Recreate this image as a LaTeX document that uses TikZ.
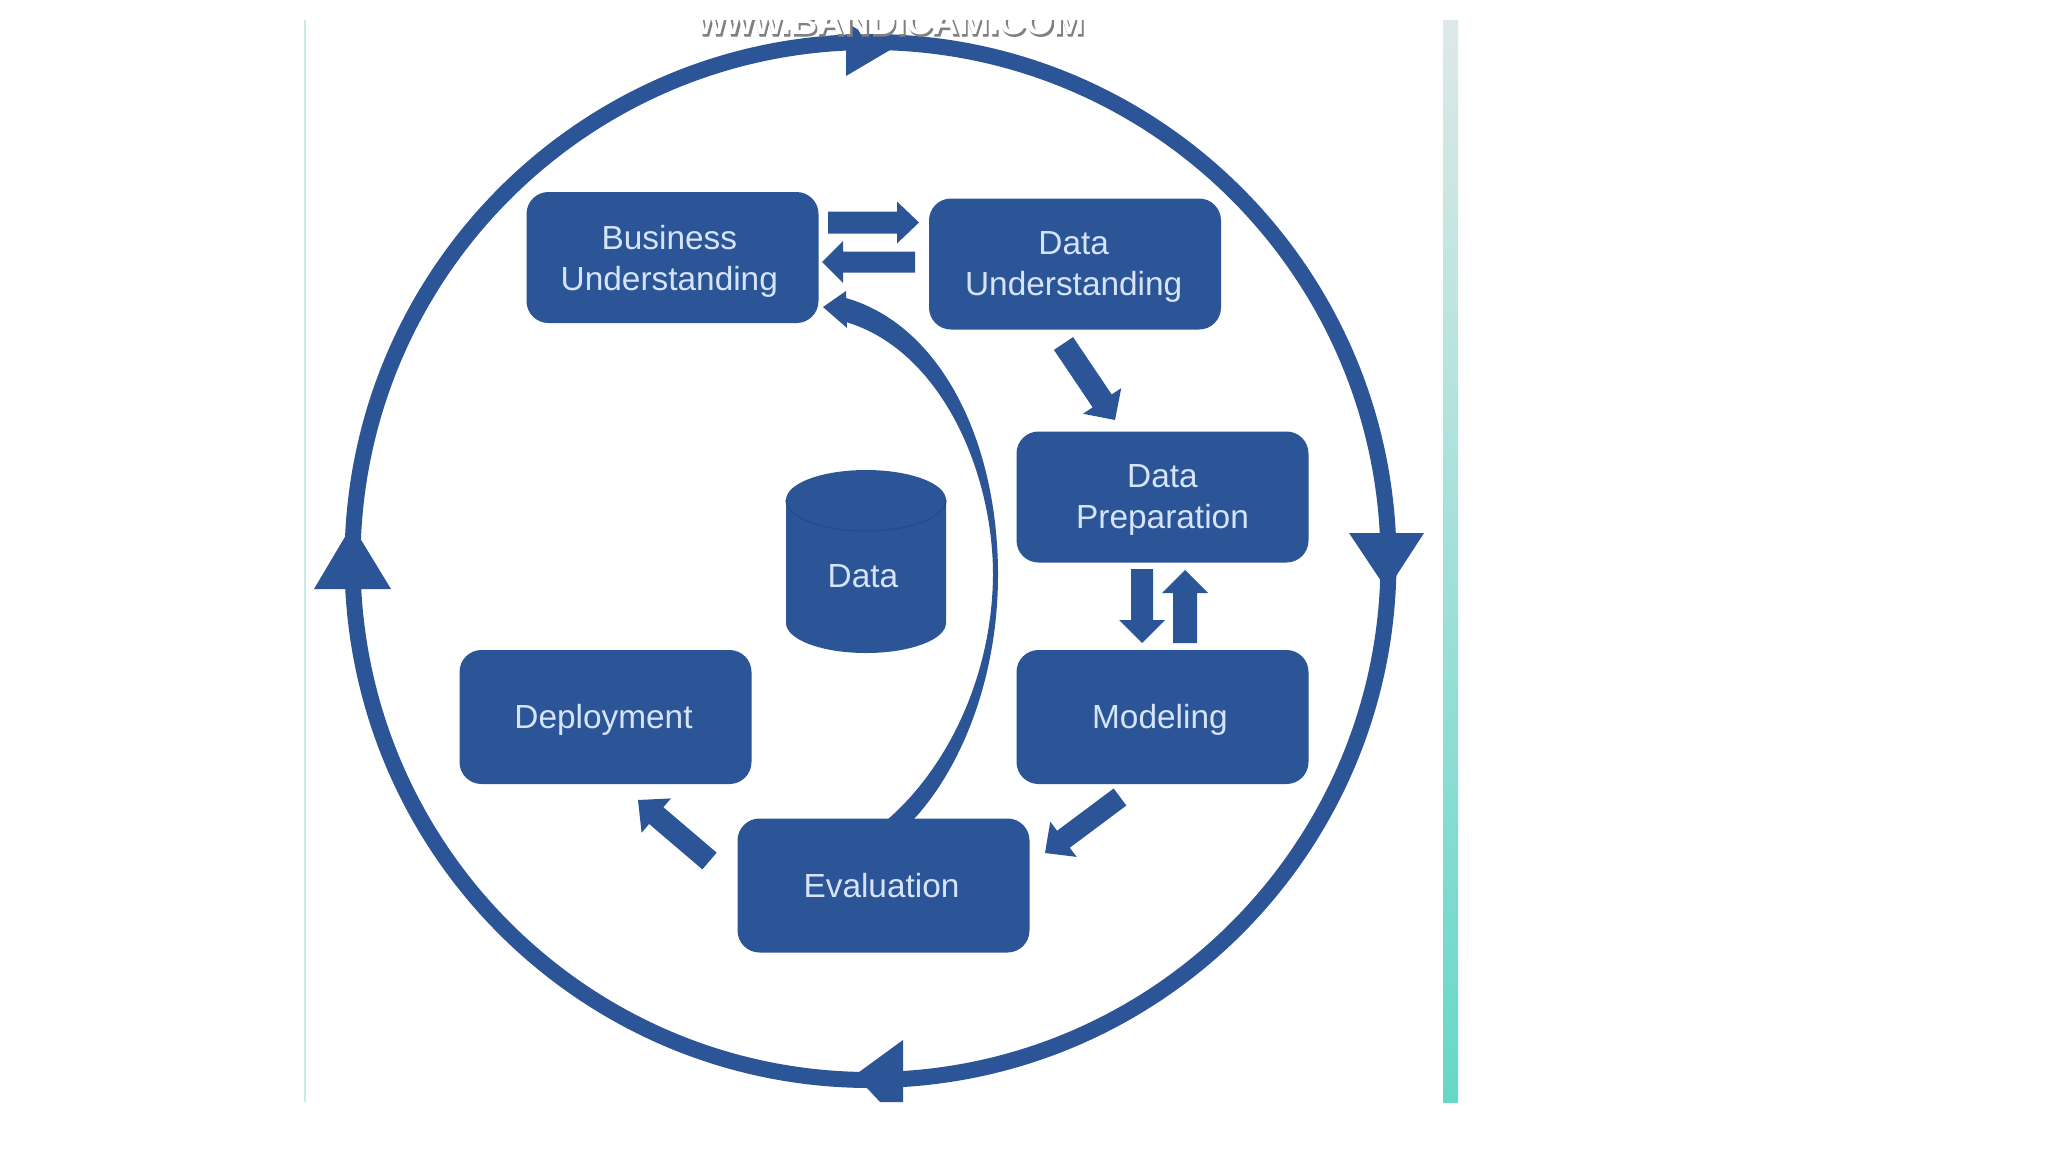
\documentclass[tikz,border=0pt]{standalone}
\usepackage{fontspec}
\setmainfont{Liberation Sans}
\newfontfamily\wmshadowfont[FakeBold=3]{Liberation Sans Bold}
\usetikzlibrary{calc}
\definecolor{crispblue}{HTML}{2B5597}
\definecolor{crispdark}{HTML}{234C8C}
\definecolor{crisptext}{HTML}{D5E4F8}
\definecolor{edgepale}{HTML}{C5ECE6}
\definecolor{striptop}{HTML}{DDE9E8}
\definecolor{stripmid}{HTML}{A0E1D8}
\definecolor{stripbot}{HTML}{66D8C8}
\tikzset{
  stage/.style={fill=crispblue,rounded corners=11pt,minimum width=146pt,minimum height=65.5pt,inner sep=0pt,align=center,text=crisptext,font=\fontsize{16.7}{20.7}\selectfont},
  tallstage/.style={stage,minimum height=67pt},
  blockfill/.style={fill=crispblue},
  cyclehead/.style={fill=crispblue},
  cyclering/.style={draw=crispblue,line width=8pt},
}
\newcommand\lift[1]{\rule{0pt}{#1}}
\newcommand\tailgap[1]{\hspace*{#1}}
\newcommand\blockarrow[5]{%
  \coordinate (tmpc) at ($(#2)!#5!(#1)$);
  \fill[blockfill] ($(#1)!#3!90:(#2)$) -- ($(tmpc)!#3!90:(#2)$) -- ($(tmpc)!#4!90:(#2)$) -- (#2) -- ($(tmpc)!#4!-90:(#2)$) -- ($(tmpc)!#3!-90:(#2)$) -- ($(#1)!#3!-90:(#2)$) -- cycle;
}
\begin{document}
\begin{tikzpicture}[x=0.5pt,y=-0.5pt]
\useasboundingbox (0,0) rectangle (2048,1152);
\fill[white] (0,0) rectangle (2048,1152);
% slide edges
\fill[edgepale] (304,20) rectangle (306,1102);
\shade[top color=striptop,middle color=stripmid,bottom color=stripbot] (1443,20) rectangle (1458,1102);
% cycle ring
\draw[cyclering] (870.5,561) ellipse [x radius=518,y radius=519];
\fill[cyclehead] (890,50) -- (846,22) -- (846,76) -- cycle;
\fill[cyclehead] (1349,533) -- (1424,533) -- (1387,590) -- cycle;
\fill[cyclehead] (855,1075) -- (903,1040) -- (903,1102) -- (880,1102) -- cycle;
\fill[cyclehead] (314,589) -- (391,589) -- (352,525) -- cycle;
% stages
\node[stage] (bu) at (672.5,257.5) {\lift{16pt}Business\tailgap{3.2pt}\\Understanding\tailgap{3.2pt}};
\node[stage] (du) at (1075,264) {\lift{14.6pt}Data\tailgap{1.3pt}\\Understanding\tailgap{1.3pt}};
\node[stage] (dp) at (1162.5,497) {\lift{14.6pt}Data\\Preparation};
\node[tallstage] (mo) at (1162.5,717) {\lift{14.6pt}Modeling\tailgap{2.6pt}};
\node[tallstage] (de) at (605.5,717) {\lift{14.6pt}Deployment\tailgap{2pt}};
\node[tallstage] (ev) at (883.5,885.5) {Evaluation\tailgap{2pt}};
% data cylinder
\fill[crispblue] (786,500) arc[start angle=180,end angle=360,x radius=80,y radius=30] -- (946,623) arc[start angle=0,end angle=180,x radius=80,y radius=30] -- cycle;
\draw[crispdark,line width=0.6pt] (786,500) arc[start angle=180,end angle=0,x radius=80,y radius=31];
\node[text=crisptext,font=\fontsize{16.7}{20.7}\selectfont,inner sep=0pt] (da) at (863,576) {Data};
% block arrows
\coordinate (a1s) at (828,222.5); \coordinate (a1e) at (919,222.5);
\coordinate (a2s) at (915,262); \coordinate (a2e) at (822,262);
\coordinate (a3s) at (1063.5,343.5); \coordinate (a3e) at (1115,420);
\coordinate (a4s) at (1142,569); \coordinate (a4e) at (1142,643);
\coordinate (a5s) at (1185,643); \coordinate (a5e) at (1185,570);
\coordinate (a6s) at (1120,797); \coordinate (a6e) at (1045,853);
\coordinate (a7s) at (709.5,861); \coordinate (a7e) at (638,800);
\blockarrow{a1s}{a1e}{5.5pt}{10.5pt}{11pt}
\blockarrow{a2s}{a2e}{5.25pt}{10.5pt}{10.5pt}
\blockarrow{a3s}{a3e}{5.75pt}{11.5pt}{11.5pt}
\blockarrow{a4s}{a4e}{5.5pt}{11.5pt}{11.5pt}
\blockarrow{a5s}{a5e}{6pt}{11.5pt}{11.5pt}
\blockarrow{a6s}{a6e}{5.3pt}{11pt}{11.5pt}
\blockarrow{a7s}{a7e}{5.5pt}{11.3pt}{12pt}
% curved return arrow, evaluation back to business understanding
\fill[blockfill] (846,298) .. controls (940,325) and (998,440) .. (998,575)
  .. controls (998,680) and (960,770) .. (913,820)
  -- (887,820) .. controls (945,770) and (992,680) .. (993,575)
  .. controls (993,470) and (940,350) .. (846,322) -- cycle;
\fill[blockfill] (823,307) -- (846,291) -- (847,328) -- cycle;
% watermark
\begin{scope}
\clip (690,20) rectangle (1095,45);
\node[anchor=base,font=\wmshadowfont\fontsize{18.2}{20}\selectfont,text=black!50,inner sep=0pt] (wms) at (892,36) {www.BANDICAM.COM};
\node[anchor=base,font=\bfseries\fontsize{18.2}{20}\selectfont,text=white,inner sep=0pt] (wm) at (891,34) {www.BANDICAM.COM};
\end{scope}
\end{tikzpicture}
\end{document}
